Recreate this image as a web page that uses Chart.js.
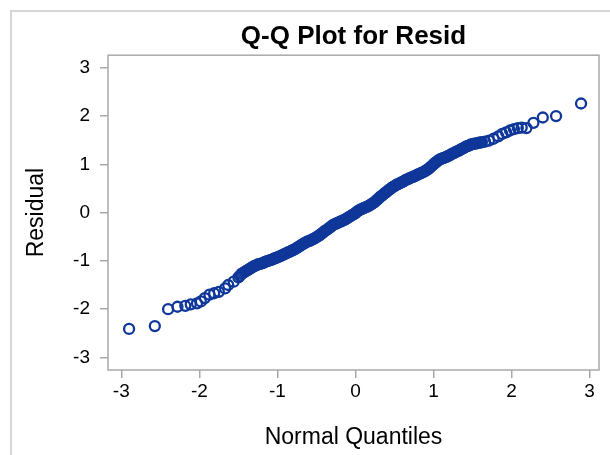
<!DOCTYPE html>
<html>
<head>
<meta charset="utf-8">
<script src="https://cdn.jsdelivr.net/npm/chart.js@4/dist/chart.umd.min.js"></script>
<style>
  body { margin: 0; background: #fff; }
</style>
</head>
<body>
<canvas id="qq" width="610" height="455"></canvas>
<script>
// normal quantiles (x) and sorted residuals (y)
// lower tail
var tailLowQ = [-2.90, -2.57, -2.40, -2.28, -2.18, -2.11, -2.03, -1.98, -1.93, -1.87, -1.81, -1.75, -1.67, -1.63, -1.56];
var tailLowR = [-2.41, -2.35, -2.00, -1.95, -1.93, -1.90, -1.88, -1.84, -1.77, -1.70, -1.67, -1.64, -1.57, -1.50, -1.43];

// dense middle band
var bandQ = [
  -1.50, -1.48, -1.46, -1.44, -1.42, -1.40, -1.38, -1.36, -1.34, -1.32,
  -1.30, -1.28, -1.26, -1.24, -1.22, -1.20, -1.18, -1.16, -1.14, -1.12,
  -1.10, -1.08, -1.06, -1.04, -1.02, -1.00, -0.98, -0.96, -0.94, -0.92,
  -0.90, -0.88, -0.86, -0.84, -0.82, -0.80, -0.78, -0.76, -0.74, -0.72,
  -0.70, -0.68, -0.66, -0.64, -0.62, -0.60, -0.58, -0.56, -0.54, -0.52,
  -0.50, -0.48, -0.46, -0.44, -0.42, -0.40, -0.38, -0.36, -0.34, -0.32,
  -0.30, -0.28, -0.26, -0.24, -0.22, -0.20, -0.18, -0.16, -0.14, -0.12,
  -0.10, -0.08, -0.06, -0.04, -0.02, 0.00, 0.02, 0.04, 0.06, 0.08,
  0.10, 0.12, 0.14, 0.16, 0.18, 0.20, 0.22, 0.24, 0.26, 0.28,
  0.30, 0.32, 0.34, 0.36, 0.38, 0.40, 0.42, 0.44, 0.46, 0.48,
  0.50, 0.52, 0.54, 0.56, 0.58, 0.60, 0.62, 0.64, 0.66, 0.68,
  0.70, 0.72, 0.74, 0.76, 0.78, 0.80, 0.82, 0.84, 0.86, 0.88,
  0.90, 0.92, 0.94, 0.96, 0.98, 1.00, 1.02, 1.04, 1.06, 1.08,
  1.10, 1.12, 1.14, 1.16, 1.18, 1.20, 1.22, 1.24, 1.26, 1.28,
  1.30, 1.32, 1.34, 1.36, 1.38, 1.40, 1.42, 1.44, 1.46, 1.48,
  1.50, 1.52, 1.54, 1.56, 1.58, 1.60, 1.62
];
var bandR = [
  -1.34, -1.31, -1.27, -1.25, -1.23, -1.21, -1.19, -1.17, -1.15, -1.13,
  -1.11, -1.10, -1.08, -1.07, -1.06, -1.05, -1.04, -1.02, -1.01, -1.00,
  -0.99, -0.98, -0.97, -0.95, -0.94, -0.93, -0.91, -0.90, -0.88, -0.87,
  -0.85, -0.84, -0.82, -0.81, -0.79, -0.78, -0.76, -0.74, -0.72, -0.70,
  -0.68, -0.66, -0.64, -0.62, -0.60, -0.59, -0.58, -0.56, -0.55, -0.53,
  -0.51, -0.49, -0.47, -0.44, -0.42, -0.39, -0.37, -0.35, -0.32, -0.30,
  -0.27, -0.25, -0.24, -0.22, -0.21, -0.19, -0.18, -0.16, -0.15, -0.13,
  -0.11, -0.09, -0.07, -0.05, -0.03, -0.01, 0.02, 0.04, 0.06, 0.07,
  0.09, 0.10, 0.12, 0.13, 0.15, 0.17, 0.19, 0.21, 0.24, 0.27,
  0.30, 0.33, 0.35, 0.38, 0.41, 0.43, 0.46, 0.48, 0.51, 0.53,
  0.55, 0.57, 0.59, 0.60, 0.62, 0.63, 0.65, 0.67, 0.69, 0.70,
  0.72, 0.73, 0.74, 0.76, 0.77, 0.79, 0.80, 0.82, 0.83, 0.85,
  0.87, 0.89, 0.91, 0.94, 0.97, 1.00, 1.03, 1.05, 1.08, 1.10,
  1.11, 1.13, 1.14, 1.15, 1.17, 1.18, 1.20, 1.22, 1.23, 1.25,
  1.27, 1.28, 1.30, 1.32, 1.33, 1.35, 1.37, 1.38, 1.39, 1.41,
  1.42, 1.43, 1.43, 1.44, 1.45, 1.45, 1.46
];

// upper tail
var tailHighQ = [1.66, 1.71, 1.77, 1.83, 1.88, 1.93, 1.98, 2.03, 2.08, 2.13, 2.19, 2.28, 2.40, 2.57, 2.89];
var tailHighR = [1.47, 1.49, 1.53, 1.58, 1.63, 1.66, 1.70, 1.73, 1.75, 1.76, 1.75, 1.86, 1.97, 2.00, 2.26];

var tickValues = [-3, -2, -1, 0, 1, 2, 3];

var quantiles = tailLowQ.concat(bandQ, tailHighQ);
var residuals = tailLowR.concat(bandR, tailHighR);
var points = quantiles.map(function(q, i) {
  return { x: q, y: residuals[i] };
});

var fontFamily = "'Liberation Sans', Arial, sans-serif";
var frameColor = '#a9a9a9';

// box round the plot area and the light outer border
var framePlugin = {
  id: 'frames',
  beforeDraw: function(chart) {
    var ctx = chart.ctx;
    ctx.save();
    ctx.fillStyle = '#fff';
    ctx.fillRect(0, 0, chart.width, chart.height);
    ctx.strokeStyle = '#d6d6d6';
    ctx.lineWidth = 2;
    ctx.strokeRect(11, 11, 700, 600);
    ctx.restore();
  },
  afterDatasetsDraw: function(chart) {
    var a = chart.chartArea;
    var ctx = chart.ctx;
    ctx.save();
    ctx.strokeStyle = frameColor;
    ctx.lineWidth = 1.5;
    ctx.strokeRect(a.left, a.top, a.right - a.left, a.bottom - a.top);
    ctx.restore();
  }
};

new Chart(document.getElementById('qq'), {
  type: 'scatter',
  data: {
    datasets: [{
      label: 'Resid',
      data: points,
      borderColor: '#0f3799',
      backgroundColor: 'rgba(0,0,0,0)',
      pointRadius: 5,
      pointBorderWidth: 2.3,
      pointHoverRadius: 5
    }]
  },
  options: {
    responsive: false,
    animation: false,
    layout: { padding: { right: 11 } },
    plugins: {
      legend: { display: false },
      tooltip: { enabled: false },
      title: {
        display: true,
        fullSize: false,
        text: 'Q-Q Plot for Resid',
        color: '#000',
        font: { family: fontFamily, size: 26, weight: 'bold' },
        padding: { top: 21, bottom: 3 }
      }
    },
    scales: {
      x: {
        type: 'linear',
        min: -3.17,
        max: 3.12,
        afterFit: function(scale) { scale.height = 85; },
        afterBuildTicks: function(scale) {
          scale.ticks = tickValues.map(function(v) { return { value: v }; });
        },
        ticks: { color: '#000', padding: 2, font: { family: fontFamily, size: 19 } },
        grid: { drawOnChartArea: false, tickLength: 8, color: frameColor, lineWidth: 1.5 },
        border: { display: false },
        title: {
          display: true,
          text: 'Normal Quantiles',
          color: '#000',
          font: { family: fontFamily, size: 23 },
          padding: { bottom: 4 }
        }
      },
      y: {
        type: 'linear',
        min: -3.26,
        max: 3.26,
        afterFit: function(scale) { scale.width = 108; },
        afterBuildTicks: function(scale) {
          scale.ticks = tickValues.map(function(v) { return { value: v }; });
        },
        ticks: { color: '#000', padding: 10, font: { family: fontFamily, size: 19 } },
        grid: { drawOnChartArea: false, tickLength: 8, color: frameColor, lineWidth: 1.5 },
        border: { display: false },
        title: {
          display: true,
          text: 'Residual',
          color: '#000',
          font: { family: fontFamily, size: 23 },
          padding: { top: 23 }
        }
      }
    }
  },
  plugins: [framePlugin]
});
</script>
</body>
</html>
